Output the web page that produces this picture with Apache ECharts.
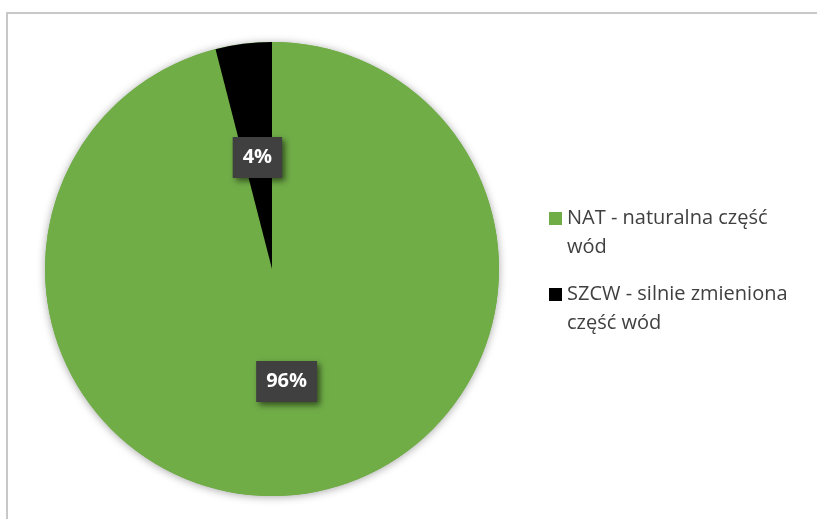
<!DOCTYPE html>
<html>
<head>
<meta charset="utf-8">
<script src="https://cdn.jsdelivr.net/npm/echarts@6/dist/echarts.min.js"></script>
<style>
html,body{margin:0;padding:0;background:#fff;}
#chart{width:817px;height:519px;}
</style>
</head>
<body>
<div id="chart"></div>
<script>
// Data
const categories = ['NAT - naturalna część\nwód', 'SZCW - silnie zmieniona\nczęść wód'];
const values = [96, 4];
const labelTexts = ['96%', '4%'];
const colors = ['#70AD47', '#000000'];

const chart = echarts.init(document.getElementById('chart'), null, {renderer: 'canvas'});

const pieData = categories.map((name, i) => ({
  name: name,
  value: values[i],
  itemStyle: {color: colors[i]},
  label: {
    show: true,
    position: 'inside',
    formatter: labelTexts[i],
    offset: i === 0 ? [0, -3] : [0, 4],
    fontFamily: 'Open Sans',
    fontWeight: 'bold',
    fontSize: 20,
    lineHeight: 25,
    color: '#ffffff',
    padding: [8, 10],
    backgroundColor: '#404040',
    shadowColor: 'rgba(0,0,0,0.55)',
    shadowBlur: 6,
    shadowOffsetX: 3,
    shadowOffsetY: 3
  }
}));

chart.setOption({
  animation: false,
  graphic: [{
    type: 'rect',
    shape: {x: 7, y: 13, width: 830, height: 530},
    style: {fill: 'none', stroke: '#c8c8c8', lineWidth: 2},
    silent: true
  }],
  legend: {
    orient: 'vertical',
    left: 544,
    top: 199,
    data: categories,
    itemWidth: 13,
    itemHeight: 42,
    itemGap: 18,
    icon: 'path://M0,0L13,0L13,13L0,13Z M0,42L0,42',
    itemStyle: {borderWidth: 0},
    textStyle: {
      fontFamily: 'Open Sans',
      fontSize: 20,
      lineHeight: 29,
      color: '#404040'
    }
  },
  series: [
    {
      type: 'pie',
      silent: true,
      center: [272, 269],
      radius: 227,
      data: [{value: 1, name: '__shadow'}],
      itemStyle: {
        color: '#70AD47',
        shadowBlur: 8,
        shadowColor: 'rgba(0,0,0,0.35)',
        shadowOffsetY: 1
      },
      label: {show: false},
      labelLine: {show: false},
      z: 1
    },
    {
      type: 'pie',
      center: [272, 269],
      radius: 227,
      startAngle: 90,
      clockwise: true,
      data: pieData,
      itemStyle: {borderWidth: 0},
      labelLine: {show: false},
      emphasis: {scale: false},
      z: 2
    }
  ]
});
</script>
</body>
</html>
